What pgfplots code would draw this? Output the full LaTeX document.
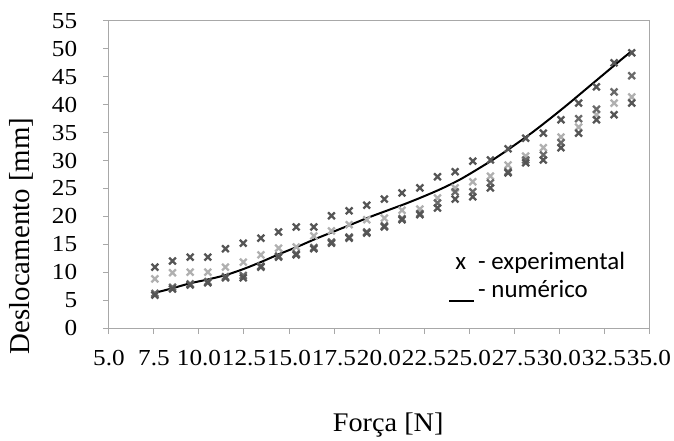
\documentclass[border=0pt]{standalone}
\usepackage{fontspec}
\setmainfont{Liberation Serif}
\newfontfamily\legfont{Carlito}
\usepackage{pgfplots}
\usepackage{pgfplotstable}
\pgfplotsset{compat=1.18}
\definecolor{darkx}{HTML}{555555}
\definecolor{midx}{HTML}{6A6A6A}
\definecolor{lightx}{HTML}{B0B0B0}
\definecolor{axgray}{HTML}{A8A8A8}
\pgfplotstableread{
x a b c d
7.55 10.9 6.2 8.8 5.9
8.53 12.0 7.3 9.9 7.0
9.51 12.7 7.9 10.0 7.7
10.49 12.7 8.3 10.0 8.1
11.47 14.2 9.2 10.9 9.0
12.46 15.2 9.4 11.8 9.0
13.44 16.1 11.1 13.1 10.9
14.42 17.2 12.9 14.3 12.7
15.40 18.1 13.3 14.5 13.1
16.38 18.1 14.4 16.5 14.2
17.36 20.1 15.4 17.4 15.2
18.34 21.0 16.3 18.5 16.1
19.32 22.0 17.2 19.4 17.0
20.30 23.1 18.3 19.7 18.1
21.28 24.2 19.6 21.1 19.4
22.27 25.1 20.5 21.3 20.3
23.25 27.1 22.4 23.3 21.5
24.23 28.0 24.4 25.1 23.1
25.21 29.9 24.4 26.2 23.5
26.19 30.1 26.0 27.2 25.1
27.17 32.1 28.0 29.2 27.8
28.15 34.0 30.1 30.8 29.6
29.13 34.9 31.0 32.3 30.1
30.11 37.3 33.2 34.2 32.3
31.09 40.3 37.5 36.0 34.9
32.08 43.2 39.2 38.2 37.3
33.06 47.5 42.3 40.3 38.2
34.04 49.3 45.2 41.4 40.3
}\exper
\pgfplotstableread{
x y
7.55 6.3
8.5 7.1
9.5 8.0
10.5 8.7
11.5 9.5
12.5 10.6
13.5 11.9
14.5 13.3
15.5 14.6
16.5 16.0
17.5 17.3
18.5 18.6
19.5 19.9
20.5 21.1
21.5 22.3
22.5 23.6
23.5 25.0
24.5 26.6
25.5 28.5
26.5 30.5
27.5 32.7
28.5 35.0
29.5 37.5
30.5 40.1
31.5 42.8
32.5 45.5
33.5 48.2
34.04 49.6
}\numer
\begin{document}
\begin{tikzpicture}
\path[use as bounding box] (-109bp,-113bp) rectangle (565bp,328bp);
\begin{axis}[
  at={(0,0)}, anchor=south west,
  scale only axis, width=540bp, height=307bp,
  xmin=5, xmax=35, ymin=0, ymax=55,
  xtick={5,7.5,10,12.5,15,17.5,20,22.5,25,27.5,30,32.5,35},
  ytick={0,5,...,55},
  xtick pos=bottom, ytick pos=left,
  tick align=outside, major tick length=6bp,
  tick style={axgray, line width=1bp},
  axis line style={axgray, line width=1bp},
  /pgf/number format/assume math mode=true,
  xticklabel style={font=\fontsize{23}{26}\selectfont, xscale=1.1, yshift=-13bp, /pgf/number format/.cd, fixed, fixed zerofill, precision=1},
  yticklabel style={font=\fontsize{23}{26}\selectfont, xscale=1.1, xshift=-20bp},
  xlabel={Força [N]}, ylabel={Deslocamento [mm]},
  xlabel style={font=\fontsize{27}{30}\selectfont, xscale=1.05, at={(axis description cs:0.517,-0.316)}, anchor=center},
  ylabel style={font=\fontsize{29}{32}\selectfont, at={(axis description cs:-0.163,0.30)}, anchor=center, rotate=0},
  legend style={at={(rel axis cs:0.628,0.255)}, anchor=north west, draw=none, fill=none, font=\legfont\fontsize{25}{28}\selectfont, inner sep=0pt, row sep=6bp},
  legend cell align=left,
  clip=false,
]
\addlegendimage{legend image code/.code={\path[draw=none] (0,0) -- (27bp,0); \node[inner sep=0pt, draw=none, font=\legfont\fontsize{25}{28}\selectfont, text=black] at (6bp,-3bp) {x};}}
\addlegendentry{- experimental}
\addlegendimage{legend image code/.code={\path[draw=none] (0,0) -- (27bp,0); \draw[black, line width=1.8bp] (0,-11bp) -- (25bp,-11bp);}}
\addlegendentry{- numérico}
\addplot[only marks, mark=x, mark size=4.8bp, lightx, mark options={line width=2.3bp}, forget plot] table[x=x, y=c] {\exper};
\addplot[only marks, mark=x, mark size=4.8bp, midx, mark options={line width=2.3bp}, forget plot] table[x=x, y=b] {\exper};
\addplot[only marks, mark=x, mark size=4.8bp, darkx, mark options={line width=2.3bp}, forget plot] table[x=x, y=d] {\exper};
\addplot[only marks, mark=x, mark size=4.8bp, darkx, mark options={line width=2.3bp}, forget plot] table[x=x, y=a] {\exper};
\addplot[black, line width=2bp, smooth, forget plot] table[x=x, y=y] {\numer};
\end{axis}
\end{tikzpicture}
\end{document}
